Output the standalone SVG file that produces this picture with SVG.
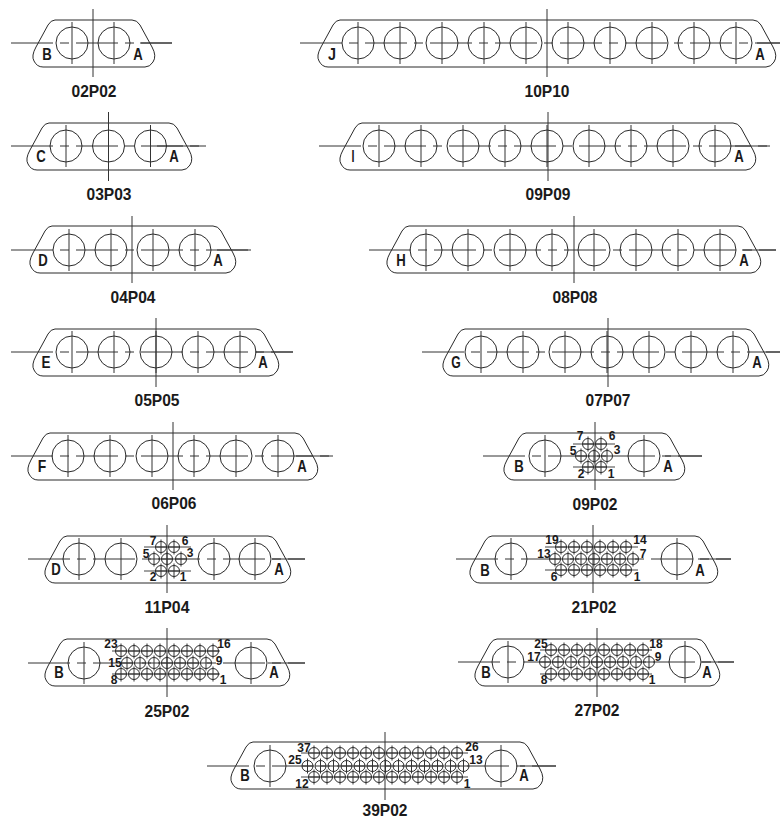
<svg xmlns="http://www.w3.org/2000/svg" width="780" height="820" viewBox="0 0 780 820">
<style>
.s{fill:none;stroke:#2a2a2a;stroke-width:1}
.c{fill:none;stroke:#333;stroke-width:1;stroke-dasharray:42 7 9 7}
.v{fill:none;stroke:#333;stroke-width:1}
.r{fill:none;stroke:#444;stroke-width:1}
text{font-family:"Liberation Sans",Arial,sans-serif;font-weight:bold;fill:#1a1a1a;text-anchor:middle}
.t{font-size:17px}
.l{font-size:16.500px}
.n{font-size:12px}
</style>
<defs>
<g id="big"><circle r="16" class="s"/><path d="M0 -21V21" class="v"/></g>
<g id="sm"><circle r="5.500" class="s"/><path d="M0 -7.500V7.500M-5.500 0H5.500" class="v"/></g>
</defs>
<rect width="780" height="820" fill="#fff"/>

<g id="c02P02">
<path class="s" d="M55 20H132q5 0 8 5l12 22q5 9 1 15q-3 5-8 5H43q-6 0-9-6q-3-5 2-14l12-22q3-5 7-5z"/>
<path class="c" d="M11 43H172"/><path class="v" d="M93 9V77M140 43H172"/>
<use href="#big" x="72" y="43"/><use href="#big" x="114" y="43"/>
<text class="l" x="47" y="60" textLength="9.500" lengthAdjust="spacingAndGlyphs">B</text><text class="l" x="138" y="60" textLength="9.500" lengthAdjust="spacingAndGlyphs">A</text>
<text class="t" x="94" y="97" textLength="45" lengthAdjust="spacingAndGlyphs">02P02</text>
</g>

<g id="c03P03">
<path class="s" d="M49 123H169q5 0 8 5l12 22q5 9 1 15q-3 5-8 5H37q-6 0-9-6q-3-5 2-14l12-22q3-5 7-5z"/>
<path class="c" d="M11 146H206"/><path class="v" d="M108.500 112V181M157 146H206"/>
<use href="#big" x="66" y="146"/><use href="#big" x="108.500" y="146"/><use href="#big" x="150.500" y="146"/>
<text class="l" x="41" y="162" textLength="9.500" lengthAdjust="spacingAndGlyphs">C</text><text class="l" x="174" y="162" textLength="9.500" lengthAdjust="spacingAndGlyphs">A</text>
<text class="t" x="109" y="200" textLength="45" lengthAdjust="spacingAndGlyphs">03P03</text>
</g>

<g id="c04P04">
<path class="s" d="M52 226H213q5 0 8 5l12 22q5 9 1 15q-3 5-8 5H40q-6 0-9-6q-3-5 2-14l12-22q3-5 7-5z"/>
<path class="c" d="M11 250H251"/><path class="v" d="M132 216V283M217 250H251"/>
<use href="#big" x="69" y="250"/><use href="#big" x="111" y="250"/><use href="#big" x="153" y="250"/><use href="#big" x="195" y="250"/>
<text class="l" x="43" y="266" textLength="9.500" lengthAdjust="spacingAndGlyphs">D</text><text class="l" x="218" y="266" textLength="9.500" lengthAdjust="spacingAndGlyphs">A</text>
<text class="t" x="133" y="303" textLength="45" lengthAdjust="spacingAndGlyphs">04P04</text>
</g>

<g id="c05P05">
<path class="s" d="M55 329H256q5 0 8 5l12 22q5 9 1 15q-3 5-8 5H43q-6 0-9-6q-3-5 2-14l12-22q3-5 7-5z"/>
<path class="c" d="M11 352H293"/><path class="v" d="M156 318V387M256 352H293"/>
<use href="#big" x="72" y="352"/><use href="#big" x="114" y="352"/><use href="#big" x="156" y="352"/><use href="#big" x="198" y="352"/><use href="#big" x="240" y="352"/>
<text class="l" x="46" y="368" textLength="9" lengthAdjust="spacingAndGlyphs">E</text><text class="l" x="263" y="368" textLength="9.500" lengthAdjust="spacingAndGlyphs">A</text>
<text class="t" x="157" y="406" textLength="45" lengthAdjust="spacingAndGlyphs">05P05</text>
</g>

<g id="c06P06">
<path class="s" d="M50 433H295q5 0 8 5l12 22q5 9 1 15q-3 5-8 5H38q-6 0-9-6q-3-5 2-14l12-22q3-5 7-5z"/>
<path class="c" d="M11 456H333"/><path class="v" d="M173 422V490M296 456H333"/>
<use href="#big" x="68" y="456"/><use href="#big" x="110" y="456"/><use href="#big" x="152" y="456"/><use href="#big" x="194" y="456"/><use href="#big" x="236" y="456"/><use href="#big" x="278" y="456"/>
<text class="l" x="42" y="472" textLength="8.500" lengthAdjust="spacingAndGlyphs">F</text><text class="l" x="302" y="472" textLength="9.500" lengthAdjust="spacingAndGlyphs">A</text>
<text class="t" x="174" y="509" textLength="45" lengthAdjust="spacingAndGlyphs">06P06</text>
</g>

<g id="c11P04">
<path class="s" d="M67 536H268q5 0 8 5l12 22q5 9 1 15q-3 5-8 5H55q-6 0-9-6q-3-5 2-14l12-22q3-5 7-5z"/>
<path class="c" d="M28 559H305"/><path class="v" d="M167 525V593M272 559H305"/>
<path class="r" d="M144 547H191M144 571H191"/>
<use href="#big" x="79" y="559"/><use href="#big" x="121" y="559"/><use href="#big" x="214" y="559"/><use href="#big" x="255" y="559"/>
<use href="#sm" x="161" y="547"/><use href="#sm" x="174" y="547"/>
<use href="#sm" x="154" y="559"/><use href="#sm" x="167" y="559"/><use href="#sm" x="181" y="559"/>
<use href="#sm" x="161" y="571"/><use href="#sm" x="174" y="571"/>
<text class="n" x="153" y="545">7</text><text class="n" x="185" y="545">6</text><text class="n" x="146" y="558">5</text><text class="n" x="190" y="557">3</text><text class="n" x="153" y="581">2</text><text class="n" x="183" y="581">1</text>
<text class="l" x="56" y="575" textLength="9.500" lengthAdjust="spacingAndGlyphs">D</text><text class="l" x="279" y="575" textLength="9.500" lengthAdjust="spacingAndGlyphs">A</text>
<text class="t" x="167" y="613" textLength="45" lengthAdjust="spacingAndGlyphs">11P04</text>
</g>

<g id="c25P02">
<path class="s" d="M67 639H267q5 0 8 5l12 22q5 9 1 15q-3 5-8 5H55q-6 0-9-6q-3-5 2-14l12-22q3-5 7-5z"/>
<path class="c" d="M28 663H305"/><path class="v" d="M167 628V697M268 663H305"/>
<path class="r" d="M112 651H220M112 674H220"/>
<use href="#big" x="84" y="663"/><use href="#big" x="251" y="663"/>
<use href="#sm" x="121" y="651"/><use href="#sm" x="134" y="651"/><use href="#sm" x="147" y="651"/><use href="#sm" x="160" y="651"/><use href="#sm" x="174" y="651"/><use href="#sm" x="187" y="651"/><use href="#sm" x="200" y="651"/><use href="#sm" x="213" y="651"/>
<use href="#sm" x="127" y="663"/><use href="#sm" x="140" y="663"/><use href="#sm" x="154" y="663"/><use href="#sm" x="167" y="663"/><use href="#sm" x="180" y="663"/><use href="#sm" x="193" y="663"/><use href="#sm" x="206" y="663"/>
<use href="#sm" x="121" y="674"/><use href="#sm" x="134" y="674"/><use href="#sm" x="147" y="674"/><use href="#sm" x="160" y="674"/><use href="#sm" x="174" y="674"/><use href="#sm" x="187" y="674"/><use href="#sm" x="200" y="674"/><use href="#sm" x="213" y="674"/>
<text class="n" x="111" y="648">23</text><text class="n" x="224" y="648">16</text><text class="n" x="115" y="667">15</text><text class="n" x="219" y="665">9</text><text class="n" x="114" y="684">8</text><text class="n" x="223" y="684">1</text>
<text class="l" x="59" y="678" textLength="9.500" lengthAdjust="spacingAndGlyphs">B</text><text class="l" x="274" y="678" textLength="9.500" lengthAdjust="spacingAndGlyphs">A</text>
<text class="t" x="167" y="717" textLength="45" lengthAdjust="spacingAndGlyphs">25P02</text>
</g>

<g id="c39P02">
<path class="s" d="M253 742H520q5 0 8 5l12 22q5 9 1 15q-3 5-8 5H241q-6 0-9-6q-3-5 2-14l12-22q3-5 7-5z"/>
<path class="c" d="M207 766H556"/><path class="v" d="M385 732V800M520 766H556"/>
<path class="r" d="M301 753H468M301 777H468"/>
<use href="#big" x="270" y="766"/><use href="#big" x="501" y="766"/>
<use href="#sm" x="314" y="753"/><use href="#sm" x="327" y="753"/><use href="#sm" x="340" y="753"/><use href="#sm" x="353" y="753"/><use href="#sm" x="366" y="753"/><use href="#sm" x="379" y="753"/><use href="#sm" x="392" y="753"/><use href="#sm" x="405" y="753"/><use href="#sm" x="418" y="753"/><use href="#sm" x="431" y="753"/><use href="#sm" x="444" y="753"/><use href="#sm" x="457" y="753"/>
<use href="#sm" x="307.500" y="766"/><use href="#sm" x="320.500" y="766"/><use href="#sm" x="333.500" y="766"/><use href="#sm" x="346.500" y="766"/><use href="#sm" x="359.500" y="766"/><use href="#sm" x="372.500" y="766"/><use href="#sm" x="385.500" y="766"/><use href="#sm" x="398.500" y="766"/><use href="#sm" x="411.500" y="766"/><use href="#sm" x="424.500" y="766"/><use href="#sm" x="437.500" y="766"/><use href="#sm" x="450.500" y="766"/><use href="#sm" x="463.500" y="766"/>
<use href="#sm" x="314" y="777"/><use href="#sm" x="327" y="777"/><use href="#sm" x="340" y="777"/><use href="#sm" x="353" y="777"/><use href="#sm" x="366" y="777"/><use href="#sm" x="379" y="777"/><use href="#sm" x="392" y="777"/><use href="#sm" x="405" y="777"/><use href="#sm" x="418" y="777"/><use href="#sm" x="431" y="777"/><use href="#sm" x="444" y="777"/><use href="#sm" x="457" y="777"/>
<text class="n" x="304" y="752">37</text><text class="n" x="472" y="751">26</text><text class="n" x="295" y="764">25</text><text class="n" x="476" y="764">13</text><text class="n" x="302" y="788">12</text><text class="n" x="467" y="788">1</text>
<text class="l" x="245" y="781" textLength="9.500" lengthAdjust="spacingAndGlyphs">B</text><text class="l" x="524" y="781" textLength="9.500" lengthAdjust="spacingAndGlyphs">A</text>
<text class="t" x="385" y="816" textLength="45" lengthAdjust="spacingAndGlyphs">39P02</text>
</g>

<g id="c10P10">
<path class="s" d="M340 20H753q5 0 8 5l12 22q5 9 1 15q-3 5-8 5H328q-6 0-9-6q-3-5 2-14l12-22q3-5 7-5z"/>
<path class="c" d="M300 43H780"/><path class="v" d="M547 9V77M757 43H780"/>
<use href="#big" x="358" y="43"/><use href="#big" x="400" y="43"/><use href="#big" x="442" y="43"/><use href="#big" x="484" y="43"/><use href="#big" x="526" y="43"/><use href="#big" x="568" y="43"/><use href="#big" x="610" y="43"/><use href="#big" x="652" y="43"/><use href="#big" x="694" y="43"/><use href="#big" x="736" y="43"/>
<text class="l" x="332" y="60" textLength="8" lengthAdjust="spacingAndGlyphs">J</text><text class="l" x="760" y="60" textLength="9.500" lengthAdjust="spacingAndGlyphs">A</text>
<text class="t" x="547" y="97" textLength="45" lengthAdjust="spacingAndGlyphs">10P10</text>
</g>

<g id="c09P09">
<path class="s" d="M362 123H733q5 0 8 5l12 22q5 9 1 15q-3 5-8 5H350q-6 0-9-6q-3-5 2-14l12-22q3-5 7-5z"/>
<path class="c" d="M319 146H770"/><path class="v" d="M548 112V181M735 146H770"/>
<use href="#big" x="379" y="146"/><use href="#big" x="421" y="146"/><use href="#big" x="463" y="146"/><use href="#big" x="505" y="146"/><use href="#big" x="547" y="146"/><use href="#big" x="589" y="146"/><use href="#big" x="631" y="146"/><use href="#big" x="673" y="146"/><use href="#big" x="715" y="146"/>
<text class="l" x="353" y="162" textLength="3" lengthAdjust="spacingAndGlyphs">I</text><text class="l" x="739" y="162" textLength="9.500" lengthAdjust="spacingAndGlyphs">A</text>
<text class="t" x="548" y="200" textLength="45" lengthAdjust="spacingAndGlyphs">09P09</text>
</g>

<g id="c08P08">
<path class="s" d="M409 226H738q5 0 8 5l12 22q5 9 1 15q-3 5-8 5H397q-6 0-9-6q-3-5 2-14l12-22q3-5 7-5z"/>
<path class="c" d="M369 250H776"/><path class="v" d="M574 216V283M742 250H776"/>
<use href="#big" x="426" y="250"/><use href="#big" x="468" y="250"/><use href="#big" x="510" y="250"/><use href="#big" x="552" y="250"/><use href="#big" x="594" y="250"/><use href="#big" x="636" y="250"/><use href="#big" x="678" y="250"/><use href="#big" x="720" y="250"/>
<text class="l" x="401" y="266" textLength="9.500" lengthAdjust="spacingAndGlyphs">H</text><text class="l" x="744" y="266" textLength="9.500" lengthAdjust="spacingAndGlyphs">A</text>
<text class="t" x="575" y="303" textLength="45" lengthAdjust="spacingAndGlyphs">08P08</text>
</g>

<g id="c07P07">
<path class="s" d="M465 329H746q5 0 8 5l12 22q5 9 1 15q-3 5-8 5H453q-6 0-9-6q-3-5 2-14l12-22q3-5 7-5z"/>
<path class="c" d="M422 352H780"/><path class="v" d="M608 318V387M766 352H780"/>
<use href="#big" x="481" y="352"/><use href="#big" x="523" y="352"/><use href="#big" x="565" y="352"/><use href="#big" x="607" y="352"/><use href="#big" x="649" y="352"/><use href="#big" x="691" y="352"/><use href="#big" x="733" y="352"/>
<text class="l" x="456" y="368" textLength="9.500" lengthAdjust="spacingAndGlyphs">G</text><text class="l" x="757" y="368" textLength="9.500" lengthAdjust="spacingAndGlyphs">A</text>
<text class="t" x="608" y="406" textLength="45" lengthAdjust="spacingAndGlyphs">07P07</text>
</g>

<g id="c09P02">
<path class="s" d="M526 433H662q5 0 8 5l12 22q5 9 1 15q-3 5-8 5H514q-6 0-9-6q-3-5 2-14l12-22q3-5 7-5z"/>
<path class="c" d="M483 456H702"/><path class="v" d="M595 422V490M665 456H702"/>
<path class="r" d="M573 444H615M573 467H615"/>
<use href="#big" x="545" y="456"/><use href="#big" x="644" y="456"/>
<use href="#sm" x="588" y="444"/><use href="#sm" x="601" y="444"/>
<use href="#sm" x="581" y="456"/><use href="#sm" x="594" y="456"/><use href="#sm" x="607" y="456"/>
<use href="#sm" x="588" y="467"/><use href="#sm" x="601" y="467"/>
<text class="n" x="580" y="440">7</text><text class="n" x="612" y="440">6</text><text class="n" x="573" y="455">5</text><text class="n" x="617" y="454">3</text><text class="n" x="581" y="478">2</text><text class="n" x="611" y="478">1</text>
<text class="l" x="519" y="472" textLength="9.500" lengthAdjust="spacingAndGlyphs">B</text><text class="l" x="668" y="472" textLength="9.500" lengthAdjust="spacingAndGlyphs">A</text>
<text class="t" x="595" y="510" textLength="45" lengthAdjust="spacingAndGlyphs">09P02</text>
</g>

<g id="c21P02">
<path class="s" d="M492 536H695q5 0 8 5l12 22q5 9 1 15q-3 5-8 5H480q-6 0-9-6q-3-5 2-14l12-22q3-5 7-5z"/>
<path class="c" d="M456 559H731"/><path class="v" d="M593 525V593M698 559H731"/>
<path class="r" d="M545 547H638M545 570H638"/>
<use href="#big" x="511" y="559"/><use href="#big" x="677" y="559"/>
<use href="#sm" x="561" y="547"/><use href="#sm" x="574" y="547"/><use href="#sm" x="587" y="547"/><use href="#sm" x="600" y="547"/><use href="#sm" x="613" y="547"/><use href="#sm" x="626" y="547"/>
<use href="#sm" x="555" y="559"/><use href="#sm" x="568" y="559"/><use href="#sm" x="581" y="559"/><use href="#sm" x="594" y="559"/><use href="#sm" x="607" y="559"/><use href="#sm" x="620" y="559"/><use href="#sm" x="633" y="559"/>
<use href="#sm" x="561" y="570"/><use href="#sm" x="574" y="570"/><use href="#sm" x="587" y="570"/><use href="#sm" x="600" y="570"/><use href="#sm" x="613" y="570"/><use href="#sm" x="626" y="570"/>
<text class="n" x="552" y="544">19</text><text class="n" x="640" y="544">14</text><text class="n" x="544" y="558">13</text><text class="n" x="643" y="558">7</text><text class="n" x="554" y="581">6</text><text class="n" x="637" y="581">1</text>
<text class="l" x="485" y="576" textLength="9.500" lengthAdjust="spacingAndGlyphs">B</text><text class="l" x="700" y="576" textLength="9.500" lengthAdjust="spacingAndGlyphs">A</text>
<text class="t" x="594" y="613" textLength="45" lengthAdjust="spacingAndGlyphs">21P02</text>
</g>

<g id="c27P02">
<path class="s" d="M497 639H697q5 0 8 5l12 22q5 9 1 15q-3 5-8 5H485q-6 0-9-6q-3-5 2-14l12-22q3-5 7-5z"/>
<path class="c" d="M458 662H734"/><path class="v" d="M597 628V697M701 662H734"/>
<path class="r" d="M540 650H652M540 674H652"/>
<use href="#big" x="508" y="662"/><use href="#big" x="685" y="662"/>
<use href="#sm" x="551" y="650"/><use href="#sm" x="564" y="650"/><use href="#sm" x="577" y="650"/><use href="#sm" x="590" y="650"/><use href="#sm" x="604" y="650"/><use href="#sm" x="617" y="650"/><use href="#sm" x="630" y="650"/><use href="#sm" x="643" y="650"/>
<use href="#sm" x="545" y="662"/><use href="#sm" x="558" y="662"/><use href="#sm" x="571" y="662"/><use href="#sm" x="584" y="662"/><use href="#sm" x="597" y="662"/><use href="#sm" x="610" y="662"/><use href="#sm" x="623" y="662"/><use href="#sm" x="636" y="662"/><use href="#sm" x="649" y="662"/>
<use href="#sm" x="551" y="674"/><use href="#sm" x="564" y="674"/><use href="#sm" x="577" y="674"/><use href="#sm" x="590" y="674"/><use href="#sm" x="604" y="674"/><use href="#sm" x="617" y="674"/><use href="#sm" x="630" y="674"/><use href="#sm" x="643" y="674"/>
<text class="n" x="541" y="648">25</text><text class="n" x="656" y="648">18</text><text class="n" x="534" y="661">17</text><text class="n" x="658" y="661">9</text><text class="n" x="544" y="684">8</text><text class="n" x="652" y="684">1</text>
<text class="l" x="486" y="678" textLength="9.500" lengthAdjust="spacingAndGlyphs">B</text><text class="l" x="707" y="678" textLength="9.500" lengthAdjust="spacingAndGlyphs">A</text>
<text class="t" x="597" y="716" textLength="45" lengthAdjust="spacingAndGlyphs">27P02</text>
</g>
</svg>
